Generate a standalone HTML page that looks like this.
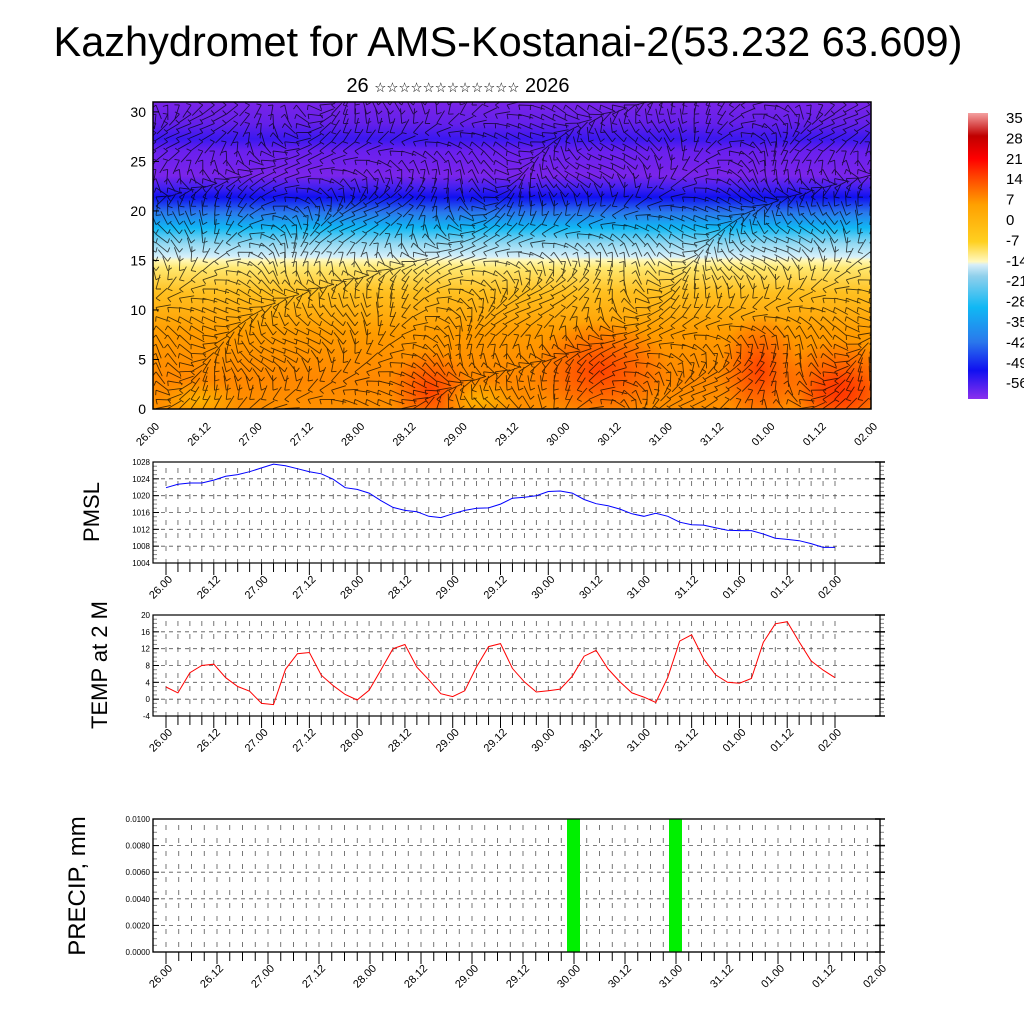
<!DOCTYPE html>
<html><head><meta charset="utf-8">
<style>
html,body{margin:0;padding:0;background:#fff;width:1024px;height:1024px;overflow:hidden}
svg{display:block;font-family:"Liberation Sans","DejaVu Sans",sans-serif}
</style></head>
<body>
<svg id="chart" width="1024" height="1024" viewBox="0 0 1024 1024" xmlns="http://www.w3.org/2000/svg">
<defs>
<linearGradient id="vprof" x1="0" y1="1" x2="0" y2="0">
<stop offset="0" stop-color="#ff9000"/>
<stop offset="0.1" stop-color="#ff8800"/>
<stop offset="0.25" stop-color="#ff9c00"/>
<stop offset="0.38" stop-color="#ffc020"/>
<stop offset="0.46" stop-color="#ffe870"/>
<stop offset="0.485" stop-color="#fff8b8"/>
<stop offset="0.495" stop-color="#d8f0fa"/>
<stop offset="0.54" stop-color="#90d8f2"/>
<stop offset="0.59" stop-color="#10b8f4"/>
<stop offset="0.64" stop-color="#2a78ec"/>
<stop offset="0.69" stop-color="#1010f0"/>
<stop offset="0.72" stop-color="#4020f0"/>
<stop offset="0.76" stop-color="#7a24ea"/>
<stop offset="0.84" stop-color="#6a20ee"/>
<stop offset="0.88" stop-color="#3a18f0"/>
<stop offset="0.93" stop-color="#6420ea"/>
<stop offset="1" stop-color="#7a24e8"/>
</linearGradient>
<linearGradient id="cbar" x1="0" y1="1" x2="0" y2="0">
<stop offset="0" stop-color="#8a30ee"/>
<stop offset="0.1" stop-color="#1010f0"/>
<stop offset="0.2" stop-color="#2a78ec"/>
<stop offset="0.32" stop-color="#10b8f4"/>
<stop offset="0.43" stop-color="#90d0ec"/>
<stop offset="0.47" stop-color="#d8eef8"/>
<stop offset="0.48" stop-color="#fff8c0"/>
<stop offset="0.55" stop-color="#ffd020"/>
<stop offset="0.68" stop-color="#ffa000"/>
<stop offset="0.78" stop-color="#ff4000"/>
<stop offset="0.84" stop-color="#ff0000"/>
<stop offset="0.92" stop-color="#c00000"/>
<stop offset="1" stop-color="#f4a0a0"/>
</linearGradient>
<radialGradient id="hot" cx="0.5" cy="0.5" r="0.5">
<stop offset="0" stop-color="#ff3000" stop-opacity="0.8"/>
<stop offset="1" stop-color="#ff3000" stop-opacity="0"/>
</radialGradient>
<radialGradient id="warm" cx="0.5" cy="0.5" r="0.5">
<stop offset="0" stop-color="#ffc000" stop-opacity="0.7"/>
<stop offset="1" stop-color="#ffc000" stop-opacity="0"/>
</radialGradient>
<clipPath id="topclip"><rect x="153" y="102" width="718" height="307"/></clipPath>
</defs>

<text x="508" y="56" font-size="41.5" text-anchor="middle">Kazhydromet for AMS-Kostanai-2(53.232 63.609)</text>
<text x="458" y="92" font-size="20" text-anchor="middle">26 <tspan font-size="13.5">☆☆☆☆☆☆☆☆☆☆☆☆</tspan> 2026</text>

<g id="top">
<g clip-path="url(#topclip)">
<rect x="153" y="102" width="718" height="307" fill="url(#vprof)"/>
<ellipse cx="430" cy="390" rx="40" ry="40" fill="url(#hot)"/>
<ellipse cx="600" cy="370" rx="70" ry="50" fill="url(#hot)"/>
<ellipse cx="760" cy="370" rx="40" ry="55" fill="url(#hot)"/>
<ellipse cx="840" cy="385" rx="60" ry="45" fill="url(#hot)"/>
<ellipse cx="840" cy="395" rx="40" ry="25" fill="url(#hot)"/>
<ellipse cx="200" cy="400" rx="40" ry="20" fill="url(#warm)"/>
<ellipse cx="480" cy="400" rx="40" ry="20" fill="url(#warm)"/>
<g id="barbs"></g>
</g>
<rect x="153" y="102" width="718" height="307" fill="none" stroke="#000" stroke-width="1.5"/>
<g id="topaxes"></g>
</g>

<g id="cb">
<rect x="968" y="113" width="20" height="286" fill="url(#cbar)"/>
</g>

<g id="p1"></g>
<g id="p2"></g>
<g id="p3"></g>

<text transform="translate(99,512) rotate(-90)" font-size="22" text-anchor="middle">PMSL</text>
<text transform="translate(107,665) rotate(-90)" font-size="22" text-anchor="middle">TEMP at 2 M</text>
<text transform="translate(85,886) rotate(-90)" font-size="24" text-anchor="middle">PRECIP, mm</text>
</svg>
<script>
const timeLabels = ["26.00","26.12","27.00","27.12","28.00","28.12","29.00","29.12","30.00","30.12","31.00","31.12","01.00","01.12","02.00"];
const pmsl = [1021.9,1022.7,1023.0,1023.0,1023.7,1024.6,1025.0,1025.7,1026.6,1027.5,1027.1,1026.4,1025.7,1025.2,1023.9,1021.9,1021.5,1020.6,1018.8,1017.2,1016.5,1016.2,1015.1,1014.8,1015.7,1016.5,1017.0,1017.1,1018.0,1019.4,1019.6,1020.0,1021.0,1021.1,1020.6,1019.1,1018.1,1017.6,1016.8,1015.7,1015.1,1015.8,1015.1,1013.7,1013.1,1013.0,1012.4,1011.8,1011.7,1011.7,1010.9,1009.9,1009.6,1009.3,1008.6,1007.7,1007.7];
const temp2m = [2.9,1.5,6.3,8.0,8.3,5.1,3.0,1.9,-1.0,-1.3,7.1,10.8,11.1,5.7,3.2,1.1,-0.2,2.1,7.0,12.0,13.0,7.6,4.6,1.3,0.6,2.0,7.7,12.5,13.2,7.3,4.1,1.7,2.0,2.4,5.4,10.2,11.6,7.2,4.1,1.5,0.5,-0.8,5.2,13.8,15.3,9.6,5.8,4.0,3.8,4.9,13.5,17.9,18.4,13.6,9.1,6.9,5.1];
const precipIdx = [32,40];
const precipVal = [0.01,0.01];
const pmslTicks = [1004,1008,1012,1016,1020,1024,1028];
const tempTicks = [-4,0,4,8,12,16,20];
const precipTicks = ["0.0000","0.0020","0.0040","0.0060","0.0080","0.0100"];
const heightTicks = [0,5,10,15,20,25,30];
const cbLabels = ["35","28","21","14","7","0","-7","-14","-21","-28","-35","-42","-49","-56"];

const NS="http://www.w3.org/2000/svg";
function mk(parent,tag,attrs,text){const e=document.createElementNS(NS,tag);for(const k in attrs)e.setAttribute(k,attrs[k]);if(text!==undefined)e.textContent=text;parent.appendChild(e);return e;}

const cb=document.getElementById('cb');
cbLabels.forEach((l,i)=>{const t=mk(cb,'text',{x:1006,y:123+i*20.4,'font-size':15},l);

});

const barbs=document.getElementById('barbs');
let bp="";
for(let gy=0;gy<34;gy++){for(let gx=0;gx<62;gx++){
 const x=156+gx*11.7, y=105+gy*9.2;
 const a=Math.sin(gx*0.23+gy*0.31)*1.6+Math.cos(gx*0.11-gy*0.17)*1.2;
 const L=15;
 const x2=x+Math.cos(a)*L, y2=y+Math.sin(a)*L;
 bp+=`M${x.toFixed(1)} ${y.toFixed(1)}L${x2.toFixed(1)} ${y2.toFixed(1)}`;
 const px=x+Math.cos(a+1.3)*5, py=y+Math.sin(a+1.3)*5;
 bp+=`M${x.toFixed(1)} ${y.toFixed(1)}L${px.toFixed(1)} ${py.toFixed(1)}`;
}}
mk(barbs,'path',{d:bp,stroke:'#000','stroke-opacity':0.7,'stroke-width':0.9,fill:'none'});

const ta=document.getElementById('topaxes');
const tyMin=0,tyMax=31, tTop=102,tBot=409, tL=153,tR=871;
const ty=v=>tBot-(v-tyMin)/(tyMax-tyMin)*(tBot-tTop);
const txTop=i=>tL+i*(tR-tL)/56;
heightTicks.forEach(v=>{const t=mk(ta,'text',{x:146,y:ty(v)+5,'font-size':14,'text-anchor':'end'},String(v));


mk(ta,'line',{x1:tL,x2:tL+6,y1:ty(v),y2:ty(v),stroke:'#000'});});
timeLabels.forEach((l,k)=>{const x=txTop(k*4);
const t=mk(ta,'text',{transform:`translate(${x+7},${tBot+18}) rotate(-45)`,'font-size':11,'text-anchor':'end'},l);

});

function panel(id,o){
 const g=document.getElementById(id);
 const {L,R,T,B,ymin,ymax,yticks,ylab,x0,dx}=o;
 const y=v=>B-(v-ymin)/(ymax-ymin)*(B-T);
 const x=i=>x0+i*dx;
 mk(g,'rect',{x:L,y:T,width:R-L,height:B-T,fill:'#fff'});
 for(let i=0;i<=56;i++){const xx=x(i); if(xx>R) continue;
  mk(g,'line',{x1:xx,x2:xx,y1:T+6,y2:B,stroke:'#555','stroke-width':0.8,'stroke-dasharray':'5,8'});
  mk(g,'line',{x1:xx,x2:xx,y1:B,y2:B+(i%4==0?12:9),stroke:'#000','stroke-width':1});}
 yticks.forEach((v,k)=>{const yy=y(v);
  if(k>0&&k<yticks.length-1) mk(g,'line',{x1:L,x2:R,y1:yy,y2:yy,stroke:'#555','stroke-width':0.8,'stroke-dasharray':'4,4'});
  mk(g,'line',{x1:R-5,x2:R+5,y1:yy,y2:yy,stroke:'#000','stroke-width':1.5});
  mk(g,'line',{x1:L,x2:L+6,y1:yy,y2:yy,stroke:'#000','stroke-width':1});
  const t=mk(g,'text',{x:L-3,y:yy+3,'font-size':8,'text-anchor':'end'},ylab[k]);
  
  
  if(k<yticks.length-1){for(let m=1;m<4;m++){const ym=yy-(m*(y(yticks[0])-y(yticks[1]))/4);
   mk(g,'line',{x1:R,x2:R+4,y1:ym,y2:ym,stroke:'#888'});
   mk(g,'line',{x1:L,x2:L+4,y1:ym,y2:ym,stroke:'#888'});}}
 });
 mk(g,'rect',{x:L,y:T,width:R-L,height:B-T,fill:'none',stroke:'#000','stroke-width':1.2});
 timeLabels.forEach((l,k)=>{const xx=x(k*4);
  const t=mk(g,'text',{transform:`translate(${xx+7},${B+17}) rotate(-45)`,'font-size':11,'text-anchor':'end'},l);
  
  });
 return {g,x,y};
}

const p1=panel('p1',{L:153,R:880,T:462,B:563,ymin:1004,ymax:1028,yticks:pmslTicks,ylab:pmslTicks.map(String),x0:166,dx:669/56});
const l1=mk(p1.g,'polyline',{points:pmsl.map((v,i)=>p1.x(i).toFixed(1)+','+p1.y(v).toFixed(1)).join(' '),fill:'none',stroke:'#0000ff','stroke-width':1});



const p2=panel('p2',{L:153,R:880,T:615,B:716,ymin:-4,ymax:20,yticks:tempTicks,ylab:tempTicks.map(String),x0:166,dx:669/56});
const l2=mk(p2.g,'polyline',{points:temp2m.map((v,i)=>p2.x(i).toFixed(1)+','+p2.y(v).toFixed(1)).join(' '),fill:'none',stroke:'#ff0000','stroke-width':1});



const p3=panel('p3',{L:153,R:880,T:819,B:952,ymin:0,ymax:0.01,yticks:precipTicks.map(Number),ylab:precipTicks,x0:166,dx:714/56});
precipIdx.forEach((i,k)=>{const xx=p3.x(i);const yv=p3.y(precipVal[k]);
 const b=mk(p3.g,'rect',{x:xx-7,y:yv,width:13,height:952-yv,fill:'#00f000'});
 
 });
mk(p3.g,'rect',{x:153,y:819,width:727,height:133,fill:'none',stroke:'#000','stroke-width':1.2});
</script>
</body></html>
